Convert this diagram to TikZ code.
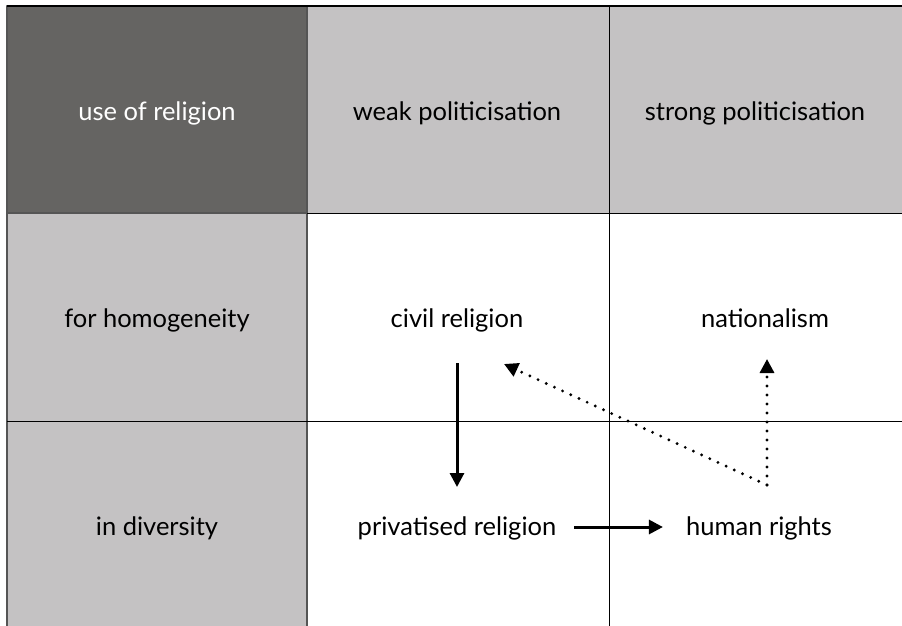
\documentclass[tikz,border=0pt]{standalone}
\usepackage{fontspec}
\setmainfont{Lato}
\usetikzlibrary{arrows.meta}
\definecolor{headdark}{HTML}{656462}
\definecolor{headlight}{HTML}{C4C2C3}
\definecolor{edgegray}{HTML}{555555}

\begin{document}
\begin{tikzpicture}[x=1pt, y=-1pt, line join=round, >={Triangle[length=14pt,width=14pt]}]

		\tikzset{label style/.style={font=\fontsize{25.5}{30}\selectfont, inner sep=0pt, anchor=base},
		         flow/.style={->, line width=3pt},
		         weak flow/.style={->, line width=3.2pt, line cap=round, dash pattern=on 0pt off 9pt}}

		\useasboundingbox (0,0) rectangle (902,626);
		% shaded header cells
		\fill[headdark] (7,6) rectangle (307,213);
		\fill[headlight] (307,6) rectangle (902,213);
		\fill[headlight] (7,213) rectangle (307,626);
		\draw[edgegray, line width=1.3pt] (7,6) rectangle (307,213);
		\draw[edgegray, line width=1.3pt] (7,213)--(7,626) (307,213)--(307,626);
		% grid
		\draw[line width=1.2pt] (7,6)--(902,6);
		\draw[line width=0.9pt] (307,213)--(902,213);
		\draw[line width=0.9pt] (7,421)--(902,421);
		\draw[line width=0.9pt] (609,6)--(609,626);

		\node[label style, text=white] (use) at (157,120) {use of religion};
		\node[label style] (weak) at (457,120) {weak politicisation};
		\node[label style] (strong) at (755,120) {strong politicisation};
		\node[label style] (homog) at (157,327) {for homogeneity};
		\node[label style] (divers) at (157,535) {in diversity};
		\node[label style] (civil) at (457,327) {civil religion};
		\node[label style] (nation) at (765,327) {nationalism};
		\node[label style] (priv) at (457,535) {privatised religion};
		\node[label style] (rights) at (759,535) {human rights};

		\coordinate (turn) at (767,485);
		\coordinate (back) at (504,364);
		\draw[flow] (civil.south |- 0,363)--(priv.north |- 0,487);
		\draw[flow, shorten >=23pt] (574,527)--(rights.west |- 0,527);
		\draw[weak flow] (turn)--(turn |- 0,359);
		\draw[weak flow] (turn)--(back);
		\end{tikzpicture}
\end{document}
